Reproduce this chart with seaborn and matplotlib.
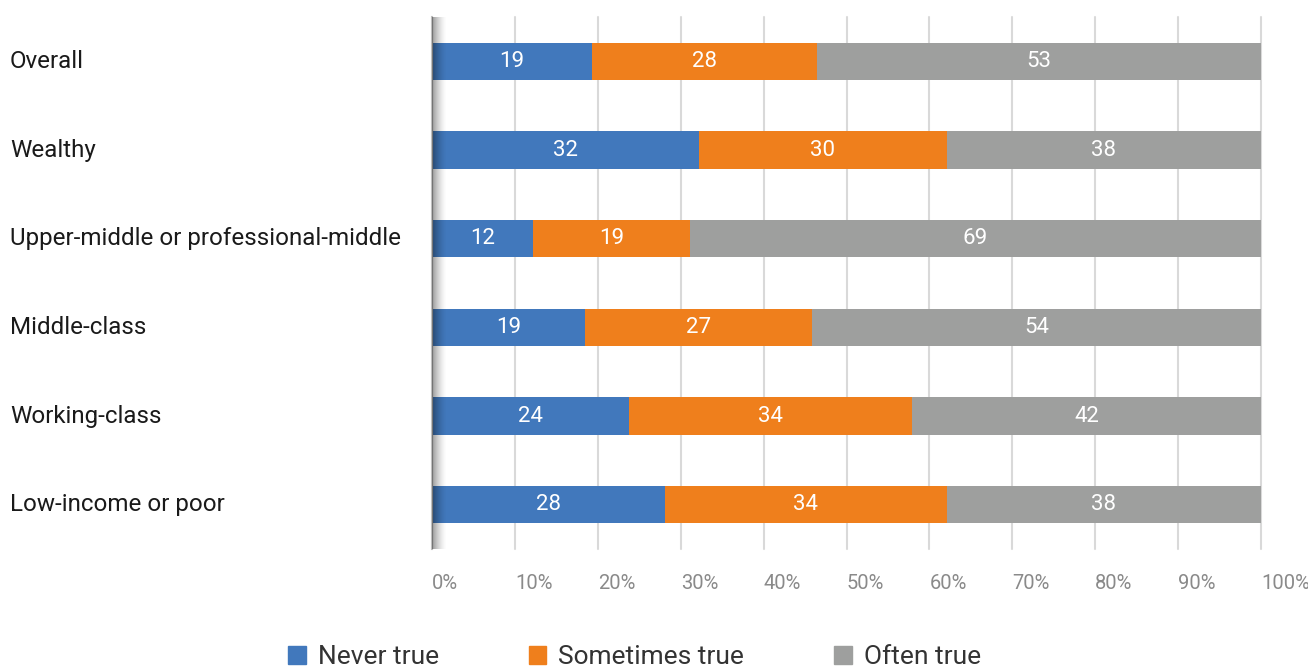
import numpy as np
import pandas as pd
import matplotlib
matplotlib.use("Agg")
import matplotlib.pyplot as plt
import matplotlib.transforms as mtransforms
from matplotlib.patches import Patch
import seaborn as sns

# data
categories = ["Overall", "Wealthy", "Upper-middle or professional-middle",
              "Middle-class", "Working-class", "Low-income or poor"]
never_true = [19.3, 32.2, 12.2, 18.5, 23.8, 28.1]
sometimes_true = [27.1, 29.9, 18.9, 27.3, 34.1, 34.0]
often_true = [53.6, 37.9, 68.9, 54.2, 42.1, 37.9]
# printed labels
never_lbl = [19, 32, 12, 19, 24, 28]
sometimes_lbl = [28, 30, 19, 27, 34, 34]
often_lbl = [53, 38, 69, 54, 42, 38]
series_names = ["Never true", "Sometimes true", "Often true"]
colors = ["#4178bc", "#ef7f1c", "#9e9f9e"]

df = pd.DataFrame({"cat": categories, "never": never_true,
                   "sometimes": sometimes_true, "often": often_true})
df["c1"] = df["never"]
df["c2"] = df["never"] + df["sometimes"]
df["c3"] = df["c2"] + df["often"]

sns.set_style("white")
plt.rcParams["font.family"] = ["Roboto", "DejaVu Sans"]

fig = plt.figure(figsize=(13.08, 6.70), dpi=100)
ax = fig.add_axes([0.3303, 0.1806, 0.6338, 0.794])

# stacked bars: draw cumulative totals from the back to the front
for col, c in zip(["c3", "c2", "c1"], colors[::-1]):
    sns.barplot(data=df, x=col, y="cat", color=c, orient="h", width=0.42,
                saturation=1, linewidth=0, ax=ax, zorder=2)

# segment labels
for i in range(len(categories)):
    starts = [0, df["c1"][i], df["c2"][i]]
    widths = [never_true[i], sometimes_true[i], often_true[i]]
    lbls = [never_lbl[i], sometimes_lbl[i], often_lbl[i]]
    for s, w, l in zip(starts, widths, lbls):
        ax.text(s + w / 2, i, str(l), ha="center", va="center",
                color="white", fontsize=16, zorder=5)

# left shadow along the axis
grad = np.zeros((1, 60, 4))
grad[0, :, 3] = np.linspace(0.55, 0, 60) ** 1.5
ax.imshow(grad, extent=[0, 1.7, 5.5, -0.5], aspect="auto", zorder=4)

ax.set_xlim(0, 100)
ax.set_ylim(5.5, -0.5)
ax.set_xticks(np.arange(0, 101, 10))
ax.set_xticklabels([f"{t}%" for t in range(0, 101, 10)], ha="left")
ax.tick_params(axis="x", length=0, pad=18, labelsize=14.5, labelcolor="#8a8a8a")
ax.tick_params(axis="y", length=0, labelleft=False)
ax.set_xlabel("")
ax.set_ylabel("")
ax.grid(axis="x", color="#d9d9d9", linewidth=1.5, zorder=0)
ax.set_axisbelow(True)
for gl in ax.get_xgridlines():
    gl.set_clip_on(False)
for sp in ["top", "right", "bottom"]:
    ax.spines[sp].set_visible(False)
ax.spines["left"].set_color("#bfbfbf")
ax.spines["left"].set_linewidth(1.5)

# category labels flush left in the figure
trans = mtransforms.blended_transform_factory(fig.transFigure, ax.transData)
for i, c in enumerate(categories):
    ax.text(10 / 1308, i, c, transform=trans, ha="left", va="center",
            fontsize=17.4, color="#1a1a1a")

handles = [Patch(color=c, label=n) for c, n in zip(colors, series_names)]
fig.legend(handles=handles, loc="center", bbox_to_anchor=(0.485, 1 - 657 / 670),
           ncol=3, frameon=False, fontsize=19, handlelength=0.68, handleheight=0.68,
           handletextpad=0.45, columnspacing=3.4, labelcolor="#333333")

fig.savefig("out.png", dpi=100)
